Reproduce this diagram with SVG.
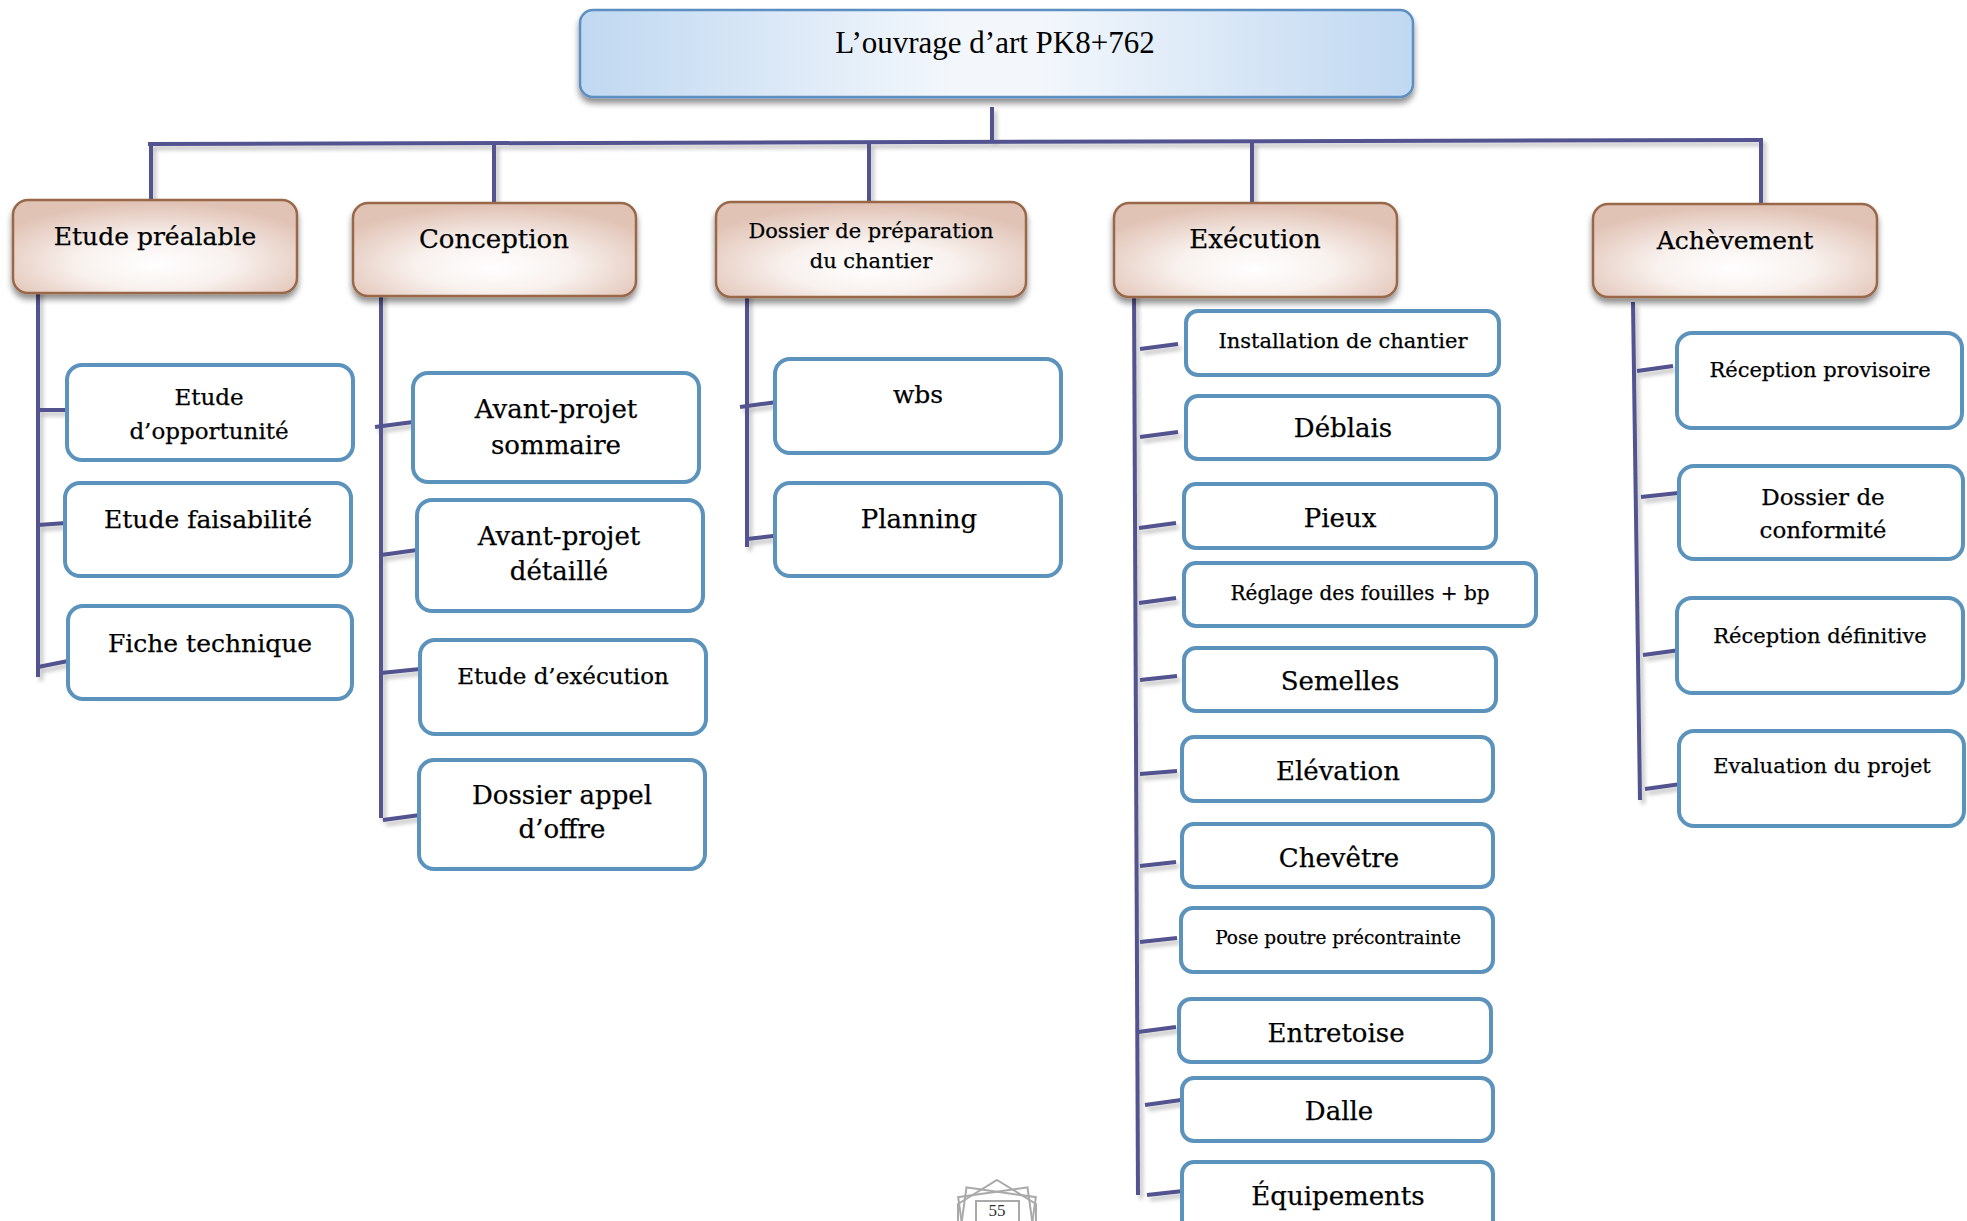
<svg xmlns="http://www.w3.org/2000/svg" width="1967" height="1221" viewBox="0 0 1967 1221">
  <defs>
    <linearGradient id="gTop" x1="0" y1="0" x2="1" y2="0">
      <stop offset="0" stop-color="#c0d8f1"/>
      <stop offset="0.45" stop-color="#f3f7fc"/>
      <stop offset="0.55" stop-color="#f3f7fc"/>
      <stop offset="1" stop-color="#c0d8f1"/>
    </linearGradient>
    <radialGradient id="gPhase" cx="0.5" cy="0.65" r="0.62" fx="0.5" fy="0.7">
      <stop offset="0" stop-color="#ffffff"/>
      <stop offset="0.45" stop-color="#f8f1ee"/>
      <stop offset="1" stop-color="#e1c3b6"/>
    </radialGradient>
    <filter id="boxShadow" x="-10%" y="-10%" width="120%" height="140%">
      <feGaussianBlur in="SourceAlpha" stdDeviation="3"/>
      <feOffset dx="0" dy="5" result="b"/>
      <feComponentTransfer><feFuncA type="linear" slope="0.45"/></feComponentTransfer>
      <feMerge><feMergeNode/><feMergeNode in="SourceGraphic"/></feMerge>
    </filter>
    <filter id="lineShadow" x="-20%" y="-20%" width="140%" height="140%">
      <feGaussianBlur in="SourceAlpha" stdDeviation="2"/>
      <feOffset dx="3" dy="4" result="b"/>
      <feComponentTransfer><feFuncA type="linear" slope="0.25"/></feComponentTransfer>
      <feMerge><feMergeNode/><feMergeNode in="SourceGraphic"/></feMerge>
    </filter>
  </defs>
  <style>
    .root { fill: url(#gTop); stroke: #5d8fc2; stroke-width: 2.5; filter: url(#boxShadow); }
    .phase { fill: url(#gPhase); stroke: #98674a; stroke-width: 2.5; filter: url(#boxShadow); }
    .task { fill: #ffffff; stroke: #5b93bc; stroke-width: 4; }
    .link { fill: none; stroke: #52538f; stroke-width: 4; stroke-linecap: butt; }
    text { font-family: "DejaVu Serif", "Liberation Serif", serif; fill: #000000; stroke: #000000; stroke-width: 0.25; text-anchor: middle; }
    .title { font-family: "Liberation Serif", "Times New Roman", serif; font-size: 31px; stroke: none; }
    .deco { fill: none; stroke: #a9a9a9; stroke-width: 2; }
    .pageno { font-family: "Liberation Serif", "Times New Roman", serif; font-size: 17px; fill: #333333; stroke: none; }
  </style>

  <rect width="1967" height="1221" fill="#ffffff"/>

  <!-- tree connectors -->
  <g id="connectors" class="link" filter="url(#lineShadow)">
    <path d="M992,107 V143"/>
    <path d="M148,144 L1763,140"/>
    <path d="M151,143 V201"/>
    <path d="M494,143 V203"/>
    <path d="M869,142 V202"/>
    <path d="M1252,141 V203"/>
    <path d="M1761,140 V204"/>
    <!-- Etude préalable -->
    <path d="M38,287 V677"/>
    <path d="M38,410 L67,410"/>
    <path d="M38,525 L66,523"/>
    <path d="M38,667 L73,660"/>
    <!-- Conception -->
    <path d="M381,287 V818"/>
    <path d="M375,427 L413,422"/>
    <path d="M381,555 L417,550"/>
    <path d="M381,673 L420,669"/>
    <path d="M383,820 L420,815"/>
    <!-- Dossier de préparation -->
    <path d="M747,287 V547"/>
    <path d="M740,407 L777,402"/>
    <path d="M747,539 L782,535"/>
    <!-- Exécution -->
    <path d="M1134,287 L1138,1195"/>
    <path d="M1140,349 L1178,344"/>
    <path d="M1140,437 L1178,432"/>
    <path d="M1139,528 L1176,523"/>
    <path d="M1139,603 L1176,598"/>
    <path d="M1140,680 L1177,676"/>
    <path d="M1140,774 L1177,771"/>
    <path d="M1140,866 L1176,862"/>
    <path d="M1140,942 L1177,938"/>
    <path d="M1138,1032 L1176,1027"/>
    <path d="M1145,1105 L1181,1100"/>
    <path d="M1147,1195 L1183,1191"/>
    <!-- Achèvement -->
    <path d="M1633,302 L1640,800"/>
    <path d="M1637,371 L1673,366"/>
    <path d="M1641,497 L1678,493"/>
    <path d="M1643,655 L1680,650"/>
    <path d="M1645,789 L1681,784"/>
  </g>

  <!-- root -->
  <g id="root">
    <rect class="root" x="580" y="10" width="833" height="87" rx="13"/>
    <text class="title" x="995" y="53">L’ouvrage d’art PK8+762</text>
  </g>

  <!-- phases -->
  <g id="etude-prealable">
    <rect class="phase" x="13" y="200" width="284" height="93" rx="15"/>
    <text x="155" y="245" font-size="25">Etude préalable</text>
  </g>
  <g id="conception">
    <rect class="phase" x="353" y="203" width="283" height="93" rx="15"/>
    <text x="494" y="248" font-size="26">Conception</text>
  </g>
  <g id="dossier-preparation">
    <rect class="phase" x="716" y="202" width="310" height="95" rx="15"/>
    <text x="871" y="238" font-size="21">Dossier de préparation</text>
    <text x="871" y="268" font-size="21">du chantier</text>
  </g>
  <g id="execution">
    <rect class="phase" x="1114" y="203" width="283" height="94" rx="15"/>
    <text x="1255" y="248" font-size="26">Exécution</text>
  </g>
  <g id="achevement">
    <rect class="phase" x="1593" y="204" width="284" height="93" rx="15"/>
    <text x="1735" y="249" font-size="25">Achèvement</text>
  </g>

  <!-- Etude préalable tasks -->
  <g id="etude-opportunite">
    <rect class="task" x="67" y="365" width="286" height="95" rx="15"/>
    <text x="209" y="405" font-size="23">Etude</text>
    <text x="209" y="439" font-size="23">d’opportunité</text>
  </g>
  <g id="etude-faisabilite">
    <rect class="task" x="65" y="483" width="286" height="93" rx="15"/>
    <text x="208" y="528" font-size="25">Etude faisabilité</text>
  </g>
  <g id="fiche-technique">
    <rect class="task" x="68" y="606" width="284" height="93" rx="15"/>
    <text x="210" y="652" font-size="25">Fiche technique</text>
  </g>

  <!-- Conception tasks -->
  <g id="aps">
    <rect class="task" x="413" y="373" width="286" height="109" rx="15"/>
    <text x="556" y="418" font-size="26">Avant-projet</text>
    <text x="556" y="454" font-size="26">sommaire</text>
  </g>
  <g id="apd">
    <rect class="task" x="417" y="500" width="286" height="111" rx="15"/>
    <text x="559" y="545" font-size="26">Avant-projet</text>
    <text x="559" y="580" font-size="26">détaillé</text>
  </g>
  <g id="etude-execution">
    <rect class="task" x="420" y="640" width="286" height="94" rx="15"/>
    <text x="563" y="684" font-size="23">Etude d’exécution</text>
  </g>
  <g id="dao">
    <rect class="task" x="419" y="760" width="286" height="109" rx="15"/>
    <text x="562" y="804" font-size="26">Dossier appel</text>
    <text x="562" y="838" font-size="26">d’offre</text>
  </g>

  <!-- Dossier de préparation tasks -->
  <g id="wbs">
    <rect class="task" x="775" y="359" width="286" height="94" rx="15"/>
    <text x="918" y="403" font-size="25">wbs</text>
  </g>
  <g id="planning">
    <rect class="task" x="775" y="483" width="286" height="93" rx="15"/>
    <text x="919" y="528" font-size="26">Planning</text>
  </g>

  <!-- Exécution tasks -->
  <g id="installation">
    <rect class="task" x="1186" y="311" width="313" height="64" rx="12"/>
    <text x="1343" y="348" font-size="21">Installation de chantier</text>
  </g>
  <g id="deblais">
    <rect class="task" x="1186" y="396" width="313" height="63" rx="12"/>
    <text x="1343" y="437" font-size="26">Déblais</text>
  </g>
  <g id="pieux">
    <rect class="task" x="1184" y="484" width="312" height="64" rx="12"/>
    <text x="1340" y="527" font-size="26">Pieux</text>
  </g>
  <g id="reglage">
    <rect class="task" x="1184" y="563" width="352" height="63" rx="12"/>
    <text x="1360" y="600" font-size="20">Réglage des fouilles + bp</text>
  </g>
  <g id="semelles">
    <rect class="task" x="1184" y="648" width="312" height="63" rx="12"/>
    <text x="1340" y="690" font-size="26">Semelles</text>
  </g>
  <g id="elevation">
    <rect class="task" x="1182" y="737" width="311" height="64" rx="12"/>
    <text x="1338" y="780" font-size="26">Elévation</text>
  </g>
  <g id="chevetre">
    <rect class="task" x="1182" y="824" width="311" height="63" rx="12"/>
    <text x="1339" y="867" font-size="26">Chevêtre</text>
  </g>
  <g id="pose-poutre">
    <rect class="task" x="1181" y="908" width="312" height="64" rx="12"/>
    <text x="1338" y="944" font-size="18.5">Pose poutre précontrainte</text>
  </g>
  <g id="entretoise">
    <rect class="task" x="1179" y="999" width="312" height="63" rx="12"/>
    <text x="1336" y="1042" font-size="26">Entretoise</text>
  </g>
  <g id="dalle">
    <rect class="task" x="1182" y="1078" width="311" height="63" rx="12"/>
    <text x="1339" y="1120" font-size="26">Dalle</text>
  </g>
  <g id="equipements">
    <rect class="task" x="1182" y="1162" width="311" height="70" rx="12"/>
    <text x="1338" y="1205" font-size="26">Équipements</text>
  </g>

  <!-- Achèvement tasks -->
  <g id="reception-provisoire">
    <rect class="task" x="1677" y="333" width="285" height="95" rx="15"/>
    <text x="1820" y="377" font-size="21">Réception provisoire</text>
  </g>
  <g id="dossier-conformite">
    <rect class="task" x="1679" y="466" width="284" height="93" rx="15"/>
    <text x="1823" y="505" font-size="23">Dossier de</text>
    <text x="1823" y="538" font-size="23">conformité</text>
  </g>
  <g id="reception-definitive">
    <rect class="task" x="1677" y="598" width="286" height="95" rx="15"/>
    <text x="1820" y="643" font-size="21">Réception définitive</text>
  </g>
  <g id="evaluation">
    <rect class="task" x="1679" y="731" width="285" height="95" rx="15"/>
    <text x="1822" y="773" font-size="21">Evaluation du projet</text>
  </g>

  <!-- page number ornament -->
  <g id="page-number">
    <polygon class="deco" points="997,1180 1036,1204 1036,1240 958,1240 958,1204"/>
    <rect class="deco" x="962" y="1192" width="70" height="60" transform="rotate(-8 997 1222)"/>
    <rect class="deco" x="962" y="1192" width="70" height="60" transform="rotate(8 997 1222)"/>
    <rect x="976" y="1201" width="43" height="30" fill="#ffffff" stroke="#a9a9a9" stroke-width="2"/>
    <text class="pageno" x="997" y="1216">55</text>
  </g>
</svg>
